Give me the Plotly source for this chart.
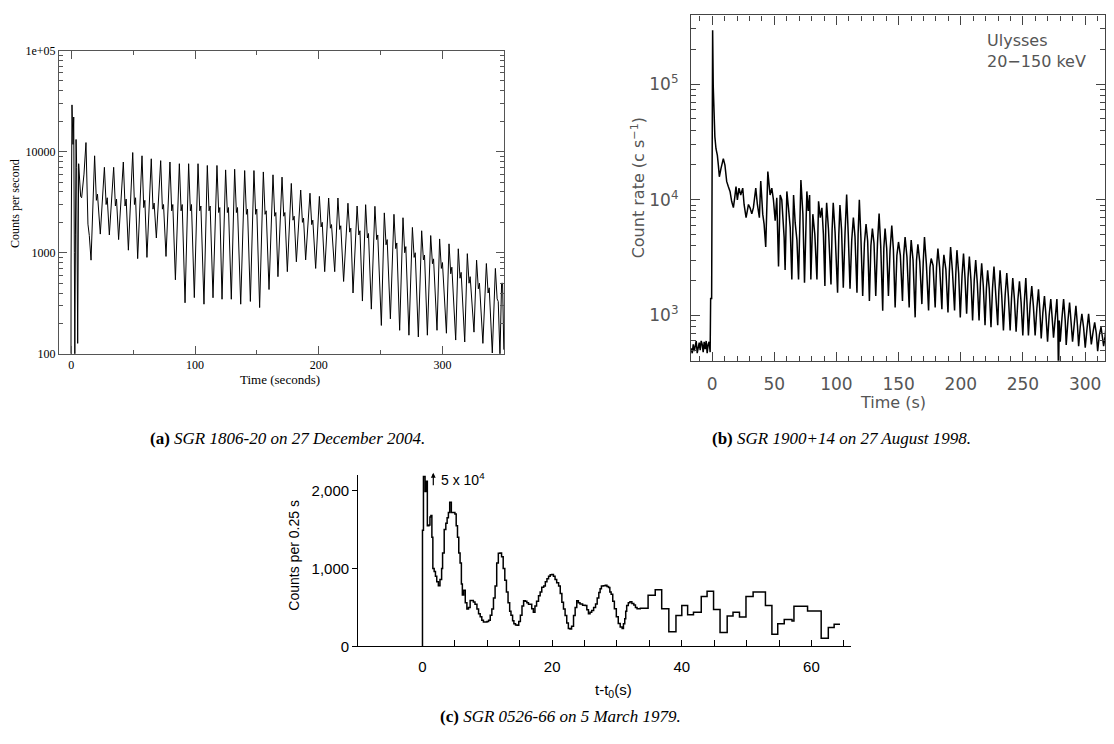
import plotly.graph_objects as go

# The browser page has an 8 px body margin, so the figure is sized to fit inside it
PAGE_W, PAGE_H, BODY = 1114, 744, 8
W, H = PAGE_W - 2 * BODY, PAGE_H - 2 * BODY

# ---------------- Panel (a): SGR 1806-20, 27 Dec 2004 ----------------
ta = [-0.6, -0.3, -0.25, 0.5, 1.3, 1.9, 2.4, 2.8, 3.3, 3.8, 4.3, 4.7, 5.1, 5.9, 6.7, 7.5, 8.3, 9.1, 10.2, 11.8,
      12.6, 13.4, 14.5, 15.9,
      18.8, 20.2, 21.1, 23.4, 26.7, 28.1, 29.0, 30.7, 34.2, 35.6, 36.5, 38.2, 42.0, 43.4, 44.3, 46.1,
      49.6, 51.0, 51.9, 53.6, 57.1, 58.5, 59.4, 61.1, 64.6, 66.0, 66.9, 68.7, 72.2, 73.6, 74.5, 76.5,
      79.7, 81.1, 82.0, 84.1, 87.3, 88.7, 89.6, 91.9, 94.8, 96.2, 97.1, 99.4, 102.4, 103.8, 104.7, 107.2,
      109.9, 111.3, 112.2, 114.5, 117.7, 119.1, 120.0, 121.8, 124.7, 126.1, 127.0, 129.3,
      132.0, 133.4, 134.3, 136.9, 140.1, 141.5, 142.4, 144.7, 147.6, 149.0, 149.9, 152.2,
      155.2, 156.6, 157.5, 159.8, 163.0, 164.4, 165.3, 167.0, 170.3, 171.7, 172.6, 174.6,
      177.8, 179.2, 180.1, 181.9, 185.4, 186.8, 187.7, 189.4, 192.9, 194.3, 195.2, 197.5,
      200.5, 201.9, 202.8, 204.8, 208.0, 209.4, 210.3, 212.9, 215.5, 216.9, 217.8, 220.1,
      223.6, 225.0, 225.9, 227.7, 231.0, 232.4, 233.3, 235.3, 237.9, 239.3, 240.2, 242.5,
      245.4, 246.8, 247.7, 250.6, 253.0, 254.4, 255.3, 257.9, 260.8, 262.2, 263.1, 265.4,
      268.1, 269.5, 270.4, 272.9, 275.7, 277.1, 278.0, 280.5, 283.2, 284.6, 285.5, 287.8,
      290.5, 291.9, 292.8, 295.6, 297.7, 299.1, 300.0, 303.2, 305.3, 306.7, 307.6, 310.7,
      312.8, 314.2, 315.1, 318.0, 320.1, 321.5, 322.4, 325.5, 327.6, 329.0, 329.9, 332.7,
      335.5, 336.9, 337.8, 340.3, 342.8, 344.2, 345.1, 346.5, 347.8, 348.6, 349.6]
ca = [90, 90, 757, 29000, 11800, 22000, 1000, 95, 1500, 13200, 7000, 1000, 127, 7600, 5000, 3600, 3500, 4170, 6000, 12300,
      4500, 1920, 1480, 845,
      9100, 3300, 3800, 1530, 7000, 3000, 3500, 1500, 7000, 2900, 3400, 1350, 7900, 2900, 3400, 1060,
      9800, 3000, 3500, 875, 9100, 2800, 3300, 900, 8500, 2700, 3100, 1400, 8150, 2700, 3000, 920,
      7900, 2600, 3000, 540, 7600, 2600, 3000, 320, 7600, 2600, 3000, 360, 7600, 2600, 2900, 310,
      7300, 2600, 2900, 359, 7300, 2500, 2800, 347, 6600, 2500, 2800, 347,
      6700, 2500, 2800, 310, 6500, 2400, 2700, 330, 6500, 2400, 2700, 287,
      6300, 2400, 2600, 433, 5900, 2300, 2500, 580, 5600, 2300, 2500, 650,
      4850, 2100, 2300, 814, 4170, 2000, 2200, 850, 3880, 1900, 2100, 700,
      3610, 1800, 2000, 650, 3480, 1750, 1900, 650, 3480, 1700, 1850, 520,
      3090, 1600, 1750, 400, 2900, 1500, 1650, 333, 2990, 1400, 1550, 277,
      2880, 1350, 1500, 191, 2480, 1200, 1350, 222, 2400, 1100, 1250, 171,
      2220, 1000, 1150, 153, 1780, 900, 1000, 147, 1650, 850, 950, 153,
      1480, 780, 870, 171, 1370, 700, 800, 160, 1225, 620, 720, 137,
      1095, 560, 640, 131, 980, 500, 580, 164, 845, 440, 500, 127,
      783, 400, 450, 102, 700, 350, 330, 95, 500, 500, 110]
a_xticks = [0, 100, 200, 300]
a_xminor = [50, 150, 250]
a_yticks = [100, 1000, 10000, 100000]
a_ytext = ["100", "1000", "10000", "1e+05"]
a_yminor = [200, 300, 400, 500, 600, 700, 800, 900, 2000, 3000, 4000, 5000, 6000, 7000, 8000, 9000,
            20000, 30000, 40000, 50000, 60000, 70000, 80000, 90000]

# ---------------- Panel (b): SGR 1900+14, 27 Aug 1998 ----------------
tb = [-17.0, -16.0, -15.2, -14.4, -13.6, -12.8, -12.0, -11.2, -10.4, -9.6, -8.8, -8.0, -7.2, -6.4, -5.6, -4.8,
      -4.0, -3.2, -2.4, -1.6, -1.2, -0.4, 0.0, 0.4, 0.9, 1.5, 2.2, 3.1, 4.2, 5.0, 5.8, 7.1, 8.0, 9.0, 10.3,
      11.7, 13.0, 14.4, 15.7, 17.1, 18.2, 19.2, 20.3, 21.6, 23.0, 24.6, 25.7, 27.3, 28.3, 29.2, 30.5, 31.9,
      33.2, 35.1, 36.4, 38.0, 39.1, 40.7, 41.8, 43.1, 44.8, 46.6, 48.0, 49.3, 50.7, 52.0, 53.4, 54.7, 56.0,
      57.9, 58.7, 60.1, 61.4, 62.8, 64.1, 65.5, 66.8, 68.2, 69.5, 71.4, 73.0, 74.3, 76.2, 77.3, 78.4, 79.4,
      81.0, 82.6, 84.3, 85.6, 87.0, 88.3, 89.5,
      90.7, 91.4, 92.1, 93.6, 95.6, 96.5, 97.4, 98.9, 100.9, 101.9, 102.8, 104.1, 105.5, 106.9, 108.2, 109.5,
      110.9, 112.3, 113.6, 114.9, 116.5, 117.4, 118.4, 119.7, 121.1, 122.5, 123.8, 125.1, 126.5, 127.7, 128.9, 130.2,
      131.6, 133.0, 134.3, 135.6, 137.2, 138.1, 139.1, 140.4, 141.8, 143.1, 144.5, 145.8, 147.2, 148.6, 149.9, 151.4,
      153.1, 154.1, 155.2, 156.7, 158.5, 159.3, 160.1, 161.6, 163.3, 164.4, 165.5, 167.0, 168.7, 169.8, 170.8, 172.3,
      174.1, 175.2, 176.2, 177.7, 179.4, 180.5, 181.6, 183.0, 184.8, 185.6, 186.4, 188.0, 189.7, 190.8, 191.8, 193.3,
      195.0, 196.0, 196.9, 198.3, 199.6, 201.0, 202.2, 203.4, 204.7, 205.8, 206.9, 208.2, 209.5, 210.8, 212.0, 213.3,
      214.7, 215.8, 216.8, 218.1, 219.5, 220.6, 221.6, 222.9, 224.3, 225.5, 226.7, 228.0, 229.7, 230.6, 231.6, 232.9,
      234.3, 235.7, 237.0, 238.3, 239.7, 240.8, 241.8, 243.1, 244.5, 245.9, 247.2, 248.5, 249.9, 251.1, 252.3, 253.3,
      254.4, 255.8, 257.1, 258.4, 259.8, 261.2, 262.5, 263.6, 264.7, 266.0, 267.3, 268.5, 269.8, 271.1, 272.4, 273.5,
      274.6, 276.0, 277.3, 278.0, 278.6, 279.2, 280.0, 281.4, 282.7, 284.0, 284.8, 286.2, 287.5, 288.8,
      289.9, 291.3, 292.6, 293.9, 294.8, 296.1, 297.4, 298.8, 300.1, 301.5, 302.8, 304.0, 305.0, 306.4, 307.7, 309.0,
      310.1, 311.5, 312.8, 313.9, 314.9, 316.0, 317.1]
cb = [520, 470, 560, 490, 540, 600, 470, 520, 580, 500, 600, 560, 480, 590, 510, 600,
      470, 560, 590, 480, 1400, 1400, 60000, 292000, 96000, 46000, 35000, 27600, 24200, 19900, 15800, 18600, 20000, 22700, 19900,
      14400, 13000, 11800, 9700, 8540, 10500, 13000, 9980, 12600, 11000, 12600, 9100, 7000, 8000, 9100, 8500, 7540,
      8540, 12600, 9100, 7000, 14500, 7500, 6150, 3900, 17500, 11000, 12600, 10000, 6600, 10400, 2640, 11000, 10000,
      4750, 2470, 11800, 8500, 5770, 2040, 11000, 6300, 4500, 2040, 14800, 7500, 1910, 11800, 8000, 11000, 2040,
      7500, 5000, 2040, 9700, 7000, 8500, 5000,
      1790, 6000, 9420, 5500, 1850, 5500, 9420, 5200, 1570, 5000, 9000, 5500, 1730, 5200, 11070, 5000,
      1700, 4500, 7020, 4800, 1570, 5000, 9980, 4600, 1470, 4200, 6160, 4400, 1330, 4000, 5640, 4200,
      1470, 4200, 7600, 4000, 1096, 3800, 5640, 3800, 1470, 3600, 5970, 3700, 1170, 3300, 4310, 3300,
      1330, 3300, 4750, 3200, 1170, 3100, 4470, 3000, 960, 3000, 4120, 2900, 1250, 2900, 4750, 2800,
      1100, 2600, 3100, 2700, 1170, 2600, 3780, 2600, 1130, 2500, 3330, 2500, 1060, 2400, 3900, 2400,
      1100, 2300, 3660, 2300, 960, 2200, 3430, 2100, 1030, 2100, 3230, 2000, 900, 2000, 3000, 1900,
      900, 1900, 2820, 1800, 820, 1700, 2450, 1700, 790, 1700, 2640, 1600, 820, 1600, 2450, 1500,
      740, 1500, 2320, 1450, 740, 1400, 2100, 1400, 720, 1350, 1970, 1300, 670, 1300, 2100, 1250,
      670, 1250, 1790, 1200, 670, 1150, 1675, 1100, 630, 1050, 1470, 1000, 590, 1000, 1380, 950,
      640, 950, 1380, 900, 300, 900, 590, 950, 1380, 900, 555, 900, 1290, 850,
      590, 850, 1210, 800, 540, 800, 1030, 780, 525, 760, 1030, 740, 560, 720, 870, 700,
      490, 680, 790, 650, 540, 650, 870]
b_xticks = [0, 50, 100, 150, 200, 250, 300]
b_yticks = [1000, 10000, 100000]
b_ytext = ["10<sup>3</sup>", "10<sup>4</sup>", "10<sup>5</sup>"]
b_yminor = [500, 600, 700, 800, 900, 2000, 3000, 4000, 5000, 6000, 7000, 8000, 9000,
            20000, 30000, 40000, 50000, 60000, 70000, 80000, 90000, 200000, 300000]

# ---------------- Panel (c): SGR 0526-66, 5 Mar 1979 ----------------
tc = [0.0, 0.0, 0.15, 0.4, 0.55, 0.75, 1.0, 1.15, 1.3, 1.45, 1.6, 1.8, 2.0, 2.2, 2.45, 2.7, 2.95, 3.1, 3.35, 3.6,
      3.8, 4.0, 4.2, 4.45, 4.7, 5.0, 5.2, 5.4, 5.6, 5.8, 6.0, 6.15, 6.35, 6.6, 6.85, 7.1, 7.35, 7.6, 7.85, 8.1,
      8.4, 8.65, 8.9, 9.15, 9.4, 9.7, 9.95, 10.2, 10.45, 10.7, 10.95, 11.2, 11.45, 11.7, 11.95, 12.2, 12.45, 12.7,
      12.95, 13.2, 13.45, 13.65, 13.9, 14.1, 14.35, 14.6, 14.85, 15.1, 15.35, 15.6, 15.85, 16.1, 16.35, 16.6,
      16.85, 17.1, 17.35, 17.6, 17.9, 18.15, 18.4, 18.7, 18.95, 19.2, 19.45, 19.7, 19.95, 20.2, 20.45, 20.7,
      21.0, 21.25, 21.5, 21.75, 22.0, 22.25, 22.5, 22.75, 23.0, 23.3, 23.55, 23.8, 24.05, 24.3, 24.7, 25.1,
      25.35, 25.6, 25.85, 26.1, 26.4, 26.7, 26.95, 27.2, 27.4, 27.6, 27.9, 28.2, 28.45, 28.7, 28.9, 29.1,
      29.35, 29.6, 29.9, 30.2, 30.5, 30.8, 31.0, 31.2, 31.35, 31.5, 31.75, 32.0, 32.3, 32.6, 32.85, 33.1, 33.6,
      34.8, 35.9, 36.9, 38.0, 39.1, 40.0, 40.9, 41.8, 43.0, 43.9, 44.9, 45.9, 47.0, 47.9, 48.9, 49.9, 51.0,
      52.9, 53.9, 54.8, 55.8, 57.0, 57.3, 59.4, 61.5, 62.6, 63.5, 64.4]
cc = [0, 1490, 2180, 1990, 2120, 1550, 1560, 1660, 1680, 1400, 1000, 960, 900, 830, 780, 860, 1000, 1200, 1500, 1580,
      1650, 1720, 1850, 1720, 1720, 1700, 1550, 1400, 1200, 1070, 800, 660, 720, 560, 480, 500, 590, 590, 570, 540,
      480, 420, 380, 335, 315, 314, 320, 335, 400, 480, 620, 775, 1070, 1195, 1200, 1150, 1000, 850,
      700, 560, 450, 400, 330, 290, 275, 272, 320, 400, 520, 586, 580, 560, 540, 540,
      482, 440, 520, 580, 650, 700, 760, 776, 830, 870, 900, 920, 922, 900, 860, 817,
      776, 680, 566, 480, 398, 300, 230, 222, 260, 398, 500, 586, 560, 545, 530, 524,
      470, 419, 440, 461, 500, 545, 620, 692, 740, 776, 780, 784, 770, 755, 700, 671,
      580, 482, 380, 293, 250, 230, 290, 356, 450, 524, 560, 574, 550, 532, 500, 482, 490,
      658, 726, 482, 189, 398, 524, 406, 440, 641, 708, 474, 180, 389, 440, 377, 641, 700,
      524, 155, 292, 347, 326, 517, 453, 106, 242, 284, 284]
c_xticks = [0, 5, 10, 15, 20, 25, 30, 35, 40, 45, 50, 55, 60, 65]
c_xtext = ["0", "", "", "", "20", "", "", "", "40", "", "", "", "60", ""]
c_yticks = [0, 1000, 2000]
c_ytext = ["0", "1,000", "2,000"]


def px(x):
    """page pixel x -> paper fraction"""
    return (x - BODY) / W


def py(y):
    """page pixel y (from top) -> paper fraction"""
    return 1 - (y - BODY) / H


fig = go.Figure()
fig.add_trace(go.Scatter(x=ta, y=ca, mode="lines", line=dict(color="black", width=1),
                         xaxis="x", yaxis="y", showlegend=False, hoverinfo="skip"))
fig.add_trace(go.Scatter(x=tb, y=cb, mode="lines", line=dict(color="black", width=1.5),
                         xaxis="x2", yaxis="y2", showlegend=False, hoverinfo="skip"))
fig.add_trace(go.Scatter(x=tc, y=cc, mode="lines", line=dict(color="black", width=1.5, shape="hv"),
                         xaxis="x3", yaxis="y3", showlegend=False, hoverinfo="skip"))

serif = "Liberation Serif"
idl_font = "DejaVu Sans"
gray = "#555555"

fig.update_layout(
    width=W, height=H, autosize=False,
    margin=dict(l=0, r=0, t=0, b=0),
    paper_bgcolor="white", plot_bgcolor="white",
    showlegend=False,
    xaxis=dict(domain=[px(59), px(504.3)], range=[-10, 350], anchor="y",
               tickmode="array", tickvals=a_xticks, ticks="inside", ticklen=8, tickcolor="#555",
               minor=dict(tickmode="array", tickvals=a_xminor, ticks="inside", ticklen=4, tickcolor="#555"),
               showline=True, linecolor="#555", linewidth=1, mirror="ticks",
               showgrid=False, zeroline=False,
               tickfont=dict(family=serif, size=12, color="black")),
    yaxis=dict(domain=[py(354), py(44.3)], type="log", range=[2, 5], anchor="x",
               tickmode="array", tickvals=a_yticks, ticktext=a_ytext,
               ticks="inside", ticklen=8, tickcolor="#555",
               minor=dict(tickmode="array", tickvals=a_yminor, ticks="inside", ticklen=4, tickcolor="#555"),
               showline=True, linecolor="#555", linewidth=1, mirror="ticks",
               showgrid=False, zeroline=False,
               tickfont=dict(family=serif, size=12, color="black")),
    xaxis2=dict(domain=[px(691), px(1105)], range=[-17, 316], anchor="y2",
                tickmode="array", tickvals=b_xticks, ticks="inside", ticklen=9, tickcolor="#444",
                minor=dict(tick0=0, dtick=10, ticks="inside", ticklen=5, tickcolor="#444"),
                showline=True, linecolor="#444", linewidth=1.2, mirror="ticks",
                showgrid=False, zeroline=False, ticklabelstandoff=8,
                tickfont=dict(family=idl_font, size=17, color=gray)),
    yaxis2=dict(domain=[py(361), py(8.5)], type="log", range=[2.607, 5.594], anchor="x2",
                tickmode="array", tickvals=b_yticks, ticktext=b_ytext,
                ticks="inside", ticklen=9, tickcolor="#444",
                minor=dict(tickmode="array", tickvals=b_yminor, ticks="inside", ticklen=5, tickcolor="#444"),
                showline=True, linecolor="#444", linewidth=1.2, mirror="ticks",
                showgrid=False, zeroline=False, ticklabelstandoff=8,
                tickfont=dict(family=idl_font, size=17, color=gray)),
    xaxis3=dict(domain=[px(358.3), px(851)], range=[-9.9, 66.1], anchor="y3",
                tickmode="array", tickvals=c_xticks, ticktext=c_xtext,
                ticks="inside", ticklen=6, tickcolor="black", tickwidth=1,
                showline=True, linecolor="black", linewidth=1.3,
                showgrid=False, zeroline=False, ticklabelstandoff=6,
                tickfont=dict(family="Liberation Sans", size=15, color="black")),
    yaxis3=dict(domain=[py(652.7), py(477.3)], range=[0, 2205], anchor="x3",
                tickmode="array", tickvals=c_yticks, ticktext=c_ytext,
                ticks="outside", ticklen=5, tickcolor="black",
                showline=True, linecolor="black", linewidth=1.3,
                showgrid=False, zeroline=False,
                tickfont=dict(family="Liberation Sans", size=15, color="black")),
)

ann = []
# panel (a) titles
ann.append(dict(text="Counts per second", x=px(15), y=py(201), textangle=-90,
                font=dict(family=serif, size=12, color="black")))
ann.append(dict(text="Time (seconds)", x=px(280), y=py(380),
                font=dict(family=serif, size=13, color="black")))
# panel (b) titles
ann.append(dict(text="Count rate (c s<sup>\u22121</sup>)", x=px(638), y=py(185), textangle=-90,
                font=dict(family=idl_font, size=16, color=gray)))
ann.append(dict(text="Time (s)", x=px(893), y=py(404),
                font=dict(family=idl_font, size=16, color=gray)))
ann.append(dict(text="Ulysses<br>20\u2212150 keV", x=px(985), y=py(45), xanchor="left", align="left",
                font=dict(family=idl_font, size=16, color=gray)))
# panel (c) titles
ann.append(dict(text="Counts per 0.25 s", x=px(294), y=py(560), textangle=-90,
                font=dict(family="Liberation Sans", size=14, color="black")))
ann.append(dict(text="t-t<sub>0</sub>(s)", x=px(613), y=py(698),
                font=dict(family="Liberation Sans", size=15, color="black")))
ann.append(dict(text="", x=px(433.3), y=py(475.5), showarrow=True, ax=0, ay=14,
                arrowhead=2, arrowsize=0.8, arrowwidth=1.2, arrowcolor="black"))
ann.append(dict(text="5 x 10<sup>4</sup>", x=px(439), y=py(482), xanchor="left",
                font=dict(family="Liberation Sans", size=14, color="black")))
# captions
ann.append(dict(text="<b>(a)</b> <i>SGR 1806-20 on 27 December 2004.</i>", x=px(287), y=py(440),
                font=dict(family=serif, size=17, color="black")))
ann.append(dict(text="<b>(b)</b> <i>SGR 1900+14 on 27 August 1998.</i>", x=px(841), y=py(440),
                font=dict(family=serif, size=17, color="black")))
ann.append(dict(text="<b>(c)</b> <i>SGR 0526-66 on 5 March 1979.</i>", x=px(560), y=py(724),
                font=dict(family=serif, size=17, color="black")))

for a in ann:
    a.setdefault("xref", "paper")
    a.setdefault("yref", "paper")
    a.setdefault("showarrow", False)
    a.setdefault("xanchor", "center")
    a.setdefault("yanchor", "middle")
fig.update_layout(annotations=ann)

fig.write_html("out.html")
